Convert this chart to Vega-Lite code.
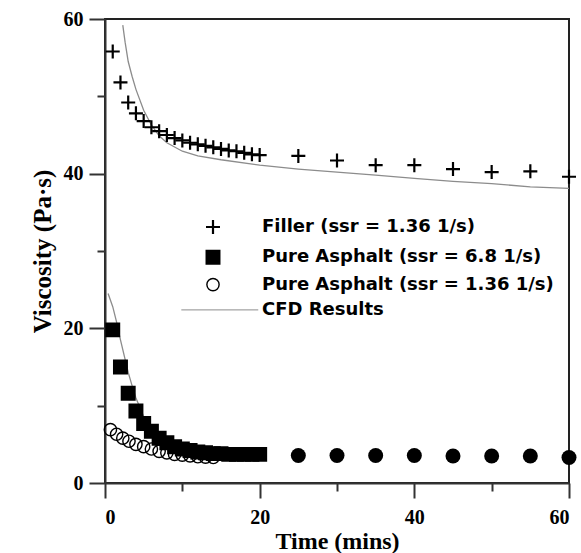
{
  "$schema": "https://vega.github.io/schema/vega-lite/v6.json",
  "autosize": "none",
  "width": 464,
  "height": 464,
  "padding": {"left": 105, "top": 19, "right": 12, "bottom": 70},
  "background": "white",
  "config": {
    "view": {"stroke": "#222", "strokeWidth": 2},
    "axis": {
      "grid": false,
      "domainColor": "#333",
      "domainWidth": 2,
      "tickColor": "#333",
      "tickWidth": 2,
      "labelFont": "Liberation Serif",
      "labelFontWeight": "bold",
      "labelFontSize": 20,
      "labelColor": "black",
      "titleFont": "Liberation Serif",
      "titleFontWeight": "bold",
      "titleFontSize": 23,
      "titleColor": "black"
    },
    "legend": {
      "orient": "none",
      "legendX": 99,
      "legendY": 199,
      "padding": 0,
      "labelFont": "DejaVu Sans",
      "labelFontWeight": "bold",
      "labelFontSize": 18,
      "labelColor": "black",
      "labelLimit": 400,
      "labelOffset": 40,
      "rowPadding": 7.3
    }
  },
  "data": {
    "values": [
      {"t": 1, "v": 55.8, "series": "Filler (ssr = 1.36 1/s)", "kind": "point"},
      {"t": 2, "v": 51.8, "series": "Filler (ssr = 1.36 1/s)", "kind": "point"},
      {"t": 3, "v": 49.2, "series": "Filler (ssr = 1.36 1/s)", "kind": "point"},
      {"t": 4, "v": 47.8, "series": "Filler (ssr = 1.36 1/s)", "kind": "point"},
      {"t": 5, "v": 46.8, "series": "Filler (ssr = 1.36 1/s)", "kind": "point"},
      {"t": 6, "v": 46.0, "series": "Filler (ssr = 1.36 1/s)", "kind": "point"},
      {"t": 7, "v": 45.5, "series": "Filler (ssr = 1.36 1/s)", "kind": "point"},
      {"t": 8, "v": 45.0, "series": "Filler (ssr = 1.36 1/s)", "kind": "point"},
      {"t": 9, "v": 44.6, "series": "Filler (ssr = 1.36 1/s)", "kind": "point"},
      {"t": 10, "v": 44.3, "series": "Filler (ssr = 1.36 1/s)", "kind": "point"},
      {"t": 11, "v": 44.0, "series": "Filler (ssr = 1.36 1/s)", "kind": "point"},
      {"t": 12, "v": 43.8, "series": "Filler (ssr = 1.36 1/s)", "kind": "point"},
      {"t": 13, "v": 43.6, "series": "Filler (ssr = 1.36 1/s)", "kind": "point"},
      {"t": 14, "v": 43.4, "series": "Filler (ssr = 1.36 1/s)", "kind": "point"},
      {"t": 15, "v": 43.2, "series": "Filler (ssr = 1.36 1/s)", "kind": "point"},
      {"t": 16, "v": 43.0, "series": "Filler (ssr = 1.36 1/s)", "kind": "point"},
      {"t": 17, "v": 42.9, "series": "Filler (ssr = 1.36 1/s)", "kind": "point"},
      {"t": 18, "v": 42.7, "series": "Filler (ssr = 1.36 1/s)", "kind": "point"},
      {"t": 19, "v": 42.5, "series": "Filler (ssr = 1.36 1/s)", "kind": "point"},
      {"t": 20, "v": 42.4, "series": "Filler (ssr = 1.36 1/s)", "kind": "point"},
      {"t": 25, "v": 42.3, "series": "Filler (ssr = 1.36 1/s)", "kind": "point"},
      {"t": 30, "v": 41.7, "series": "Filler (ssr = 1.36 1/s)", "kind": "point"},
      {"t": 35, "v": 41.1, "series": "Filler (ssr = 1.36 1/s)", "kind": "point"},
      {"t": 40, "v": 41.1, "series": "Filler (ssr = 1.36 1/s)", "kind": "point"},
      {"t": 45, "v": 40.6, "series": "Filler (ssr = 1.36 1/s)", "kind": "point"},
      {"t": 50, "v": 40.2, "series": "Filler (ssr = 1.36 1/s)", "kind": "point"},
      {"t": 55, "v": 40.3, "series": "Filler (ssr = 1.36 1/s)", "kind": "point"},
      {"t": 60, "v": 39.6, "series": "Filler (ssr = 1.36 1/s)", "kind": "point"},
      {"t": 1, "v": 19.8, "series": "Pure Asphalt (ssr = 6.8 1/s)", "kind": "point"},
      {"t": 2, "v": 15.0, "series": "Pure Asphalt (ssr = 6.8 1/s)", "kind": "point"},
      {"t": 3, "v": 11.6, "series": "Pure Asphalt (ssr = 6.8 1/s)", "kind": "point"},
      {"t": 4, "v": 9.3, "series": "Pure Asphalt (ssr = 6.8 1/s)", "kind": "point"},
      {"t": 5, "v": 7.7, "series": "Pure Asphalt (ssr = 6.8 1/s)", "kind": "point"},
      {"t": 6, "v": 6.7, "series": "Pure Asphalt (ssr = 6.8 1/s)", "kind": "point"},
      {"t": 7, "v": 5.8, "series": "Pure Asphalt (ssr = 6.8 1/s)", "kind": "point"},
      {"t": 8, "v": 5.2, "series": "Pure Asphalt (ssr = 6.8 1/s)", "kind": "point"},
      {"t": 9, "v": 4.7, "series": "Pure Asphalt (ssr = 6.8 1/s)", "kind": "point"},
      {"t": 10, "v": 4.4, "series": "Pure Asphalt (ssr = 6.8 1/s)", "kind": "point"},
      {"t": 11, "v": 4.2, "series": "Pure Asphalt (ssr = 6.8 1/s)", "kind": "point"},
      {"t": 12, "v": 4.0, "series": "Pure Asphalt (ssr = 6.8 1/s)", "kind": "point"},
      {"t": 13, "v": 3.9, "series": "Pure Asphalt (ssr = 6.8 1/s)", "kind": "point"},
      {"t": 14, "v": 3.8, "series": "Pure Asphalt (ssr = 6.8 1/s)", "kind": "point"},
      {"t": 15, "v": 3.8, "series": "Pure Asphalt (ssr = 6.8 1/s)", "kind": "point"},
      {"t": 16, "v": 3.7, "series": "Pure Asphalt (ssr = 6.8 1/s)", "kind": "point"},
      {"t": 17, "v": 3.7, "series": "Pure Asphalt (ssr = 6.8 1/s)", "kind": "point"},
      {"t": 18, "v": 3.7, "series": "Pure Asphalt (ssr = 6.8 1/s)", "kind": "point"},
      {"t": 19, "v": 3.7, "series": "Pure Asphalt (ssr = 6.8 1/s)", "kind": "point"},
      {"t": 20, "v": 3.7, "series": "Pure Asphalt (ssr = 6.8 1/s)", "kind": "point"},
      {"t": 0.7, "v": 6.9, "series": "Pure Asphalt (ssr = 1.36 1/s)", "kind": "point"},
      {"t": 1.5, "v": 6.3, "series": "Pure Asphalt (ssr = 1.36 1/s)", "kind": "point"},
      {"t": 2.3, "v": 5.8, "series": "Pure Asphalt (ssr = 1.36 1/s)", "kind": "point"},
      {"t": 3.1, "v": 5.4, "series": "Pure Asphalt (ssr = 1.36 1/s)", "kind": "point"},
      {"t": 4, "v": 5.0, "series": "Pure Asphalt (ssr = 1.36 1/s)", "kind": "point"},
      {"t": 5, "v": 4.7, "series": "Pure Asphalt (ssr = 1.36 1/s)", "kind": "point"},
      {"t": 6, "v": 4.4, "series": "Pure Asphalt (ssr = 1.36 1/s)", "kind": "point"},
      {"t": 7, "v": 4.1, "series": "Pure Asphalt (ssr = 1.36 1/s)", "kind": "point"},
      {"t": 8, "v": 3.9, "series": "Pure Asphalt (ssr = 1.36 1/s)", "kind": "point"},
      {"t": 9, "v": 3.7, "series": "Pure Asphalt (ssr = 1.36 1/s)", "kind": "point"},
      {"t": 10, "v": 3.6, "series": "Pure Asphalt (ssr = 1.36 1/s)", "kind": "point"},
      {"t": 11, "v": 3.5, "series": "Pure Asphalt (ssr = 1.36 1/s)", "kind": "point"},
      {"t": 12, "v": 3.4, "series": "Pure Asphalt (ssr = 1.36 1/s)", "kind": "point"},
      {"t": 13, "v": 3.35, "series": "Pure Asphalt (ssr = 1.36 1/s)", "kind": "point"},
      {"t": 14, "v": 3.3, "series": "Pure Asphalt (ssr = 1.36 1/s)", "kind": "point"},
      {"t": 25, "v": 3.55, "series": "dots", "kind": "dot"},
      {"t": 30, "v": 3.55, "series": "dots", "kind": "dot"},
      {"t": 35, "v": 3.55, "series": "dots", "kind": "dot"},
      {"t": 40, "v": 3.55, "series": "dots", "kind": "dot"},
      {"t": 45, "v": 3.5, "series": "dots", "kind": "dot"},
      {"t": 50, "v": 3.5, "series": "dots", "kind": "dot"},
      {"t": 55, "v": 3.5, "series": "dots", "kind": "dot"},
      {"t": 60, "v": 3.3, "series": "dots", "kind": "dot"},
      {"t": 2.3, "v": 59.2, "series": "cfd_upper", "kind": "cfd"},
      {"t": 2.6, "v": 57.0, "series": "cfd_upper", "kind": "cfd"},
      {"t": 3.0, "v": 54.5, "series": "cfd_upper", "kind": "cfd"},
      {"t": 3.5, "v": 52.6, "series": "cfd_upper", "kind": "cfd"},
      {"t": 4.0, "v": 50.9, "series": "cfd_upper", "kind": "cfd"},
      {"t": 5.0, "v": 48.2, "series": "cfd_upper", "kind": "cfd"},
      {"t": 6.0, "v": 46.3, "series": "cfd_upper", "kind": "cfd"},
      {"t": 7.0, "v": 44.9, "series": "cfd_upper", "kind": "cfd"},
      {"t": 8.0, "v": 44.0, "series": "cfd_upper", "kind": "cfd"},
      {"t": 10.0, "v": 42.9, "series": "cfd_upper", "kind": "cfd"},
      {"t": 12.0, "v": 42.3, "series": "cfd_upper", "kind": "cfd"},
      {"t": 15.0, "v": 41.8, "series": "cfd_upper", "kind": "cfd"},
      {"t": 20.0, "v": 41.1, "series": "cfd_upper", "kind": "cfd"},
      {"t": 25.0, "v": 40.6, "series": "cfd_upper", "kind": "cfd"},
      {"t": 30.0, "v": 40.2, "series": "cfd_upper", "kind": "cfd"},
      {"t": 35.0, "v": 39.8, "series": "cfd_upper", "kind": "cfd"},
      {"t": 40.0, "v": 39.4, "series": "cfd_upper", "kind": "cfd"},
      {"t": 45.0, "v": 39.0, "series": "cfd_upper", "kind": "cfd"},
      {"t": 50.0, "v": 38.7, "series": "cfd_upper", "kind": "cfd"},
      {"t": 55.0, "v": 38.3, "series": "cfd_upper", "kind": "cfd"},
      {"t": 60.0, "v": 38.1, "series": "cfd_upper", "kind": "cfd"},
      {"t": 0.4, "v": 24.5, "series": "cfd_lower", "kind": "cfd"},
      {"t": 1.0, "v": 22.8, "series": "cfd_lower", "kind": "cfd"},
      {"t": 1.5, "v": 20.8, "series": "cfd_lower", "kind": "cfd"},
      {"t": 2.0, "v": 18.5, "series": "cfd_lower", "kind": "cfd"},
      {"t": 2.5, "v": 16.4, "series": "cfd_lower", "kind": "cfd"},
      {"t": 3.0, "v": 14.3, "series": "cfd_lower", "kind": "cfd"},
      {"t": 3.5, "v": 12.6, "series": "cfd_lower", "kind": "cfd"},
      {"t": 4.0, "v": 11.0, "series": "cfd_lower", "kind": "cfd"},
      {"t": 5.0, "v": 8.6, "series": "cfd_lower", "kind": "cfd"},
      {"t": 6.0, "v": 6.9, "series": "cfd_lower", "kind": "cfd"},
      {"t": 7.0, "v": 5.7, "series": "cfd_lower", "kind": "cfd"},
      {"t": 8.0, "v": 4.9, "series": "cfd_lower", "kind": "cfd"},
      {"t": 9.0, "v": 4.4, "series": "cfd_lower", "kind": "cfd"},
      {"t": 10.0, "v": 4.0, "series": "cfd_lower", "kind": "cfd"},
      {"t": 12.0, "v": 3.7, "series": "cfd_lower", "kind": "cfd"},
      {"t": 14.0, "v": 3.6, "series": "cfd_lower", "kind": "cfd"},
      {"t": 16.0, "v": 3.6, "series": "cfd_lower", "kind": "cfd"},
      {"t": 20.0, "v": 3.6, "series": "cfd_lower", "kind": "cfd"}
    ]
  },
  "encoding": {
    "x": {
      "field": "t", "type": "quantitative",
      "scale": {"domain": [0, 60], "nice": false},
      "axis": {
        "title": "Time (mins)",
        "titleFontSize": 24,
        "values": [0, 10, 20, 30, 40, 50, 60],
        "labelExpr": "datum.value % 20 === 0 ? datum.label : ''",
        "tickSize": {"condition": {"test": "datum.value % 20 === 0", "value": 15}, "value": 8},
        "labelPadding": 9,
        "titlePadding": 2
      }
    },
    "y": {
      "field": "v", "type": "quantitative",
      "scale": {"domain": [0, 60], "nice": false},
      "axis": {
        "title": "Viscosity (Pa·s)",
        "titleFontSize": 25,
        "values": [0, 10, 20, 30, 40, 50, 60],
        "labelExpr": "datum.value % 20 === 0 ? datum.label : ''",
        "tickSize": {"condition": {"test": "datum.value % 20 === 0", "value": 16}, "value": 8},
        "labelPadding": 6,
        "titlePadding": 8
      }
    }
  },
  "layer": [
    {
      "transform": [{"filter": "datum.kind === 'cfd'"}],
      "mark": {"type": "line", "color": "#8c8c8c", "strokeWidth": 1.3},
      "encoding": {"detail": {"field": "series"}}
    },
    {
      "transform": [{"filter": "datum.kind === 'dot'"}],
      "mark": {"type": "point", "shape": "circle", "filled": true, "color": "black", "opacity": 1, "size": 225},
      "encoding": {}
    },
    {
      "transform": [{"filter": "datum.kind === 'point'"}],
      "mark": {"type": "point", "opacity": 1},
      "encoding": {
        "shape": {
          "field": "series", "type": "nominal", "title": null,
          "scale": {
            "domain": ["Filler (ssr = 1.36 1/s)", "Pure Asphalt (ssr = 6.8 1/s)", "Pure Asphalt (ssr = 1.36 1/s)", "CFD Results"],
            "range": ["M-1,0H1M0,-1V1", "square", "circle", "M-5.6,0H8"]
          }
        },
        "fill": {
          "field": "series", "type": "nominal", "title": null,
          "scale": {
            "domain": ["Filler (ssr = 1.36 1/s)", "Pure Asphalt (ssr = 6.8 1/s)", "Pure Asphalt (ssr = 1.36 1/s)", "CFD Results"],
            "range": ["transparent", "black", "transparent", "transparent"]
          }
        },
        "stroke": {
          "field": "series", "type": "nominal", "title": null,
          "scale": {
            "domain": ["Filler (ssr = 1.36 1/s)", "Pure Asphalt (ssr = 6.8 1/s)", "Pure Asphalt (ssr = 1.36 1/s)", "CFD Results"],
            "range": ["black", "black", "black", "#8c8c8c"]
          }
        },
        "strokeWidth": {
          "field": "series", "type": "nominal", "title": null,
          "scale": {
            "domain": ["Filler (ssr = 1.36 1/s)", "Pure Asphalt (ssr = 6.8 1/s)", "Pure Asphalt (ssr = 1.36 1/s)", "CFD Results"],
            "range": [2.2, 1, 1.1, 1.5]
          }
        },
        "size": {
          "field": "series", "type": "nominal", "title": null,
          "scale": {
            "domain": ["Filler (ssr = 1.36 1/s)", "Pure Asphalt (ssr = 6.8 1/s)", "Pure Asphalt (ssr = 1.36 1/s)", "CFD Results"],
            "range": [196, 128, 81, 121]
          }
        }
      }
    }
  ]
}
